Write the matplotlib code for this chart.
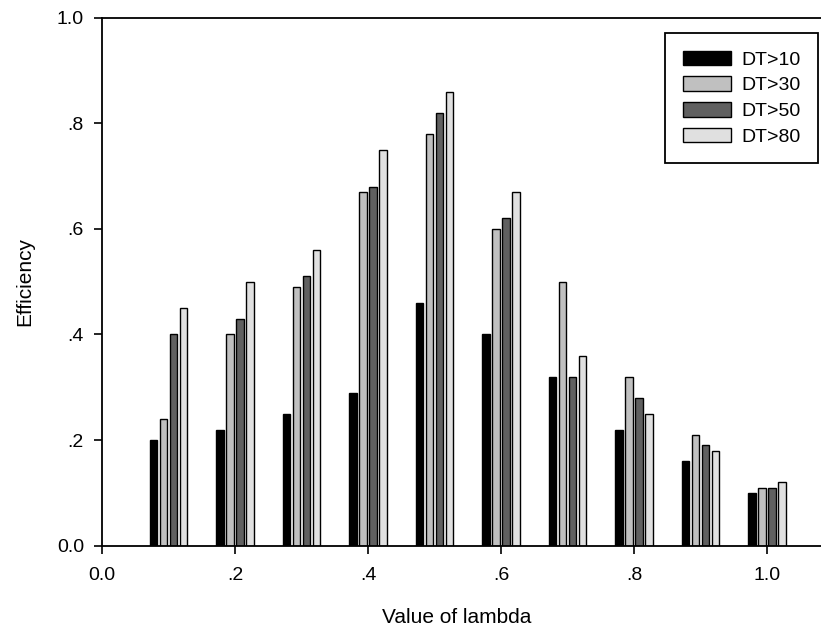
#Grouped bar chart: efficiency vs lambda for several DT thresholds.
import numpy as np
import matplotlib.pyplot as plt

plt.rcParams['font.family'] = ['Liberation Sans', 'DejaVu Sans']

lambdas = [0.1, 0.2, 0.3, 0.4, 0.5, 0.6, 0.7, 0.8, 0.9, 1.0]
labels = ['DT>10', 'DT>30', 'DT>50', 'DT>80']
dt10 = [0.20, 0.22, 0.25, 0.29, 0.46, 0.40, 0.32, 0.22, 0.16, 0.10]
dt30 = [0.24, 0.40, 0.49, 0.67, 0.78, 0.60, 0.50, 0.32, 0.21, 0.11]
dt50 = [0.40, 0.43, 0.51, 0.68, 0.82, 0.62, 0.32, 0.28, 0.19, 0.11]
dt80 = [0.45, 0.50, 0.56, 0.75, 0.86, 0.67, 0.36, 0.25, 0.18, 0.12]
xticks = [0.0, 0.2, 0.4, 0.6, 0.8, 1.0]
xtick_labels = ['0.0', '.2', '.4', '.6', '.8', '1.0']
yticks = [0.0, 0.2, 0.4, 0.6, 0.8, 1.0]
ytick_labels = ['0.0', '.2', '.4', '.6', '.8', '1.0']

colors = ['#000000', '#c0c0c0', '#606060', '#e0e0e0']
series = [dt10, dt30, dt50, dt80]

fig = plt.figure(figsize=(8.21, 6.34), dpi=100)
ax = fig.add_axes([0.1242, 0.1393, 0.8758, 0.8328])

x = np.array(lambdas)
step = 0.015
width = 0.011
for i, (vals, c, lab) in enumerate(zip(series, colors, labels)):
    ax.bar(x + (i - 1.5) * step, vals, width=width, color=c,
           edgecolor='black', linewidth=1.0, label=lab)

ax.set_xlim(0, 1.081)
ax.set_ylim(0, 1.0)
ax.set_xticks(xticks)
ax.set_xticklabels(xtick_labels)
ax.set_yticks(yticks)
ax.set_yticklabels(ytick_labels)
ax.tick_params(labelsize=14, direction='out', length=6, width=1.2)
ax.tick_params(axis='x', pad=9)
ax.tick_params(axis='y', pad=7)
for s in ['left', 'bottom', 'top']:
    ax.spines[s].set_linewidth(1.3)
ax.spines['right'].set_visible(False)

ax.set_xlabel('Value of lambda', fontsize=15)
ax.set_ylabel('Efficiency', fontsize=15)
ax.xaxis.set_label_coords(0.493, -0.118)
ax.yaxis.set_label_coords(-0.0946, 0.5)

leg = ax.legend(loc='upper right', bbox_to_anchor=(0.996, 0.971),
                borderaxespad=0, fontsize=14, fancybox=False,
                edgecolor='black', framealpha=1, handlelength=2.47,
                handleheight=0.77, handletextpad=0.55, labelspacing=0.4,
                borderpad=0.9)
leg.get_frame().set_linewidth(1.3)

fig.savefig('out.png', dpi=100)
